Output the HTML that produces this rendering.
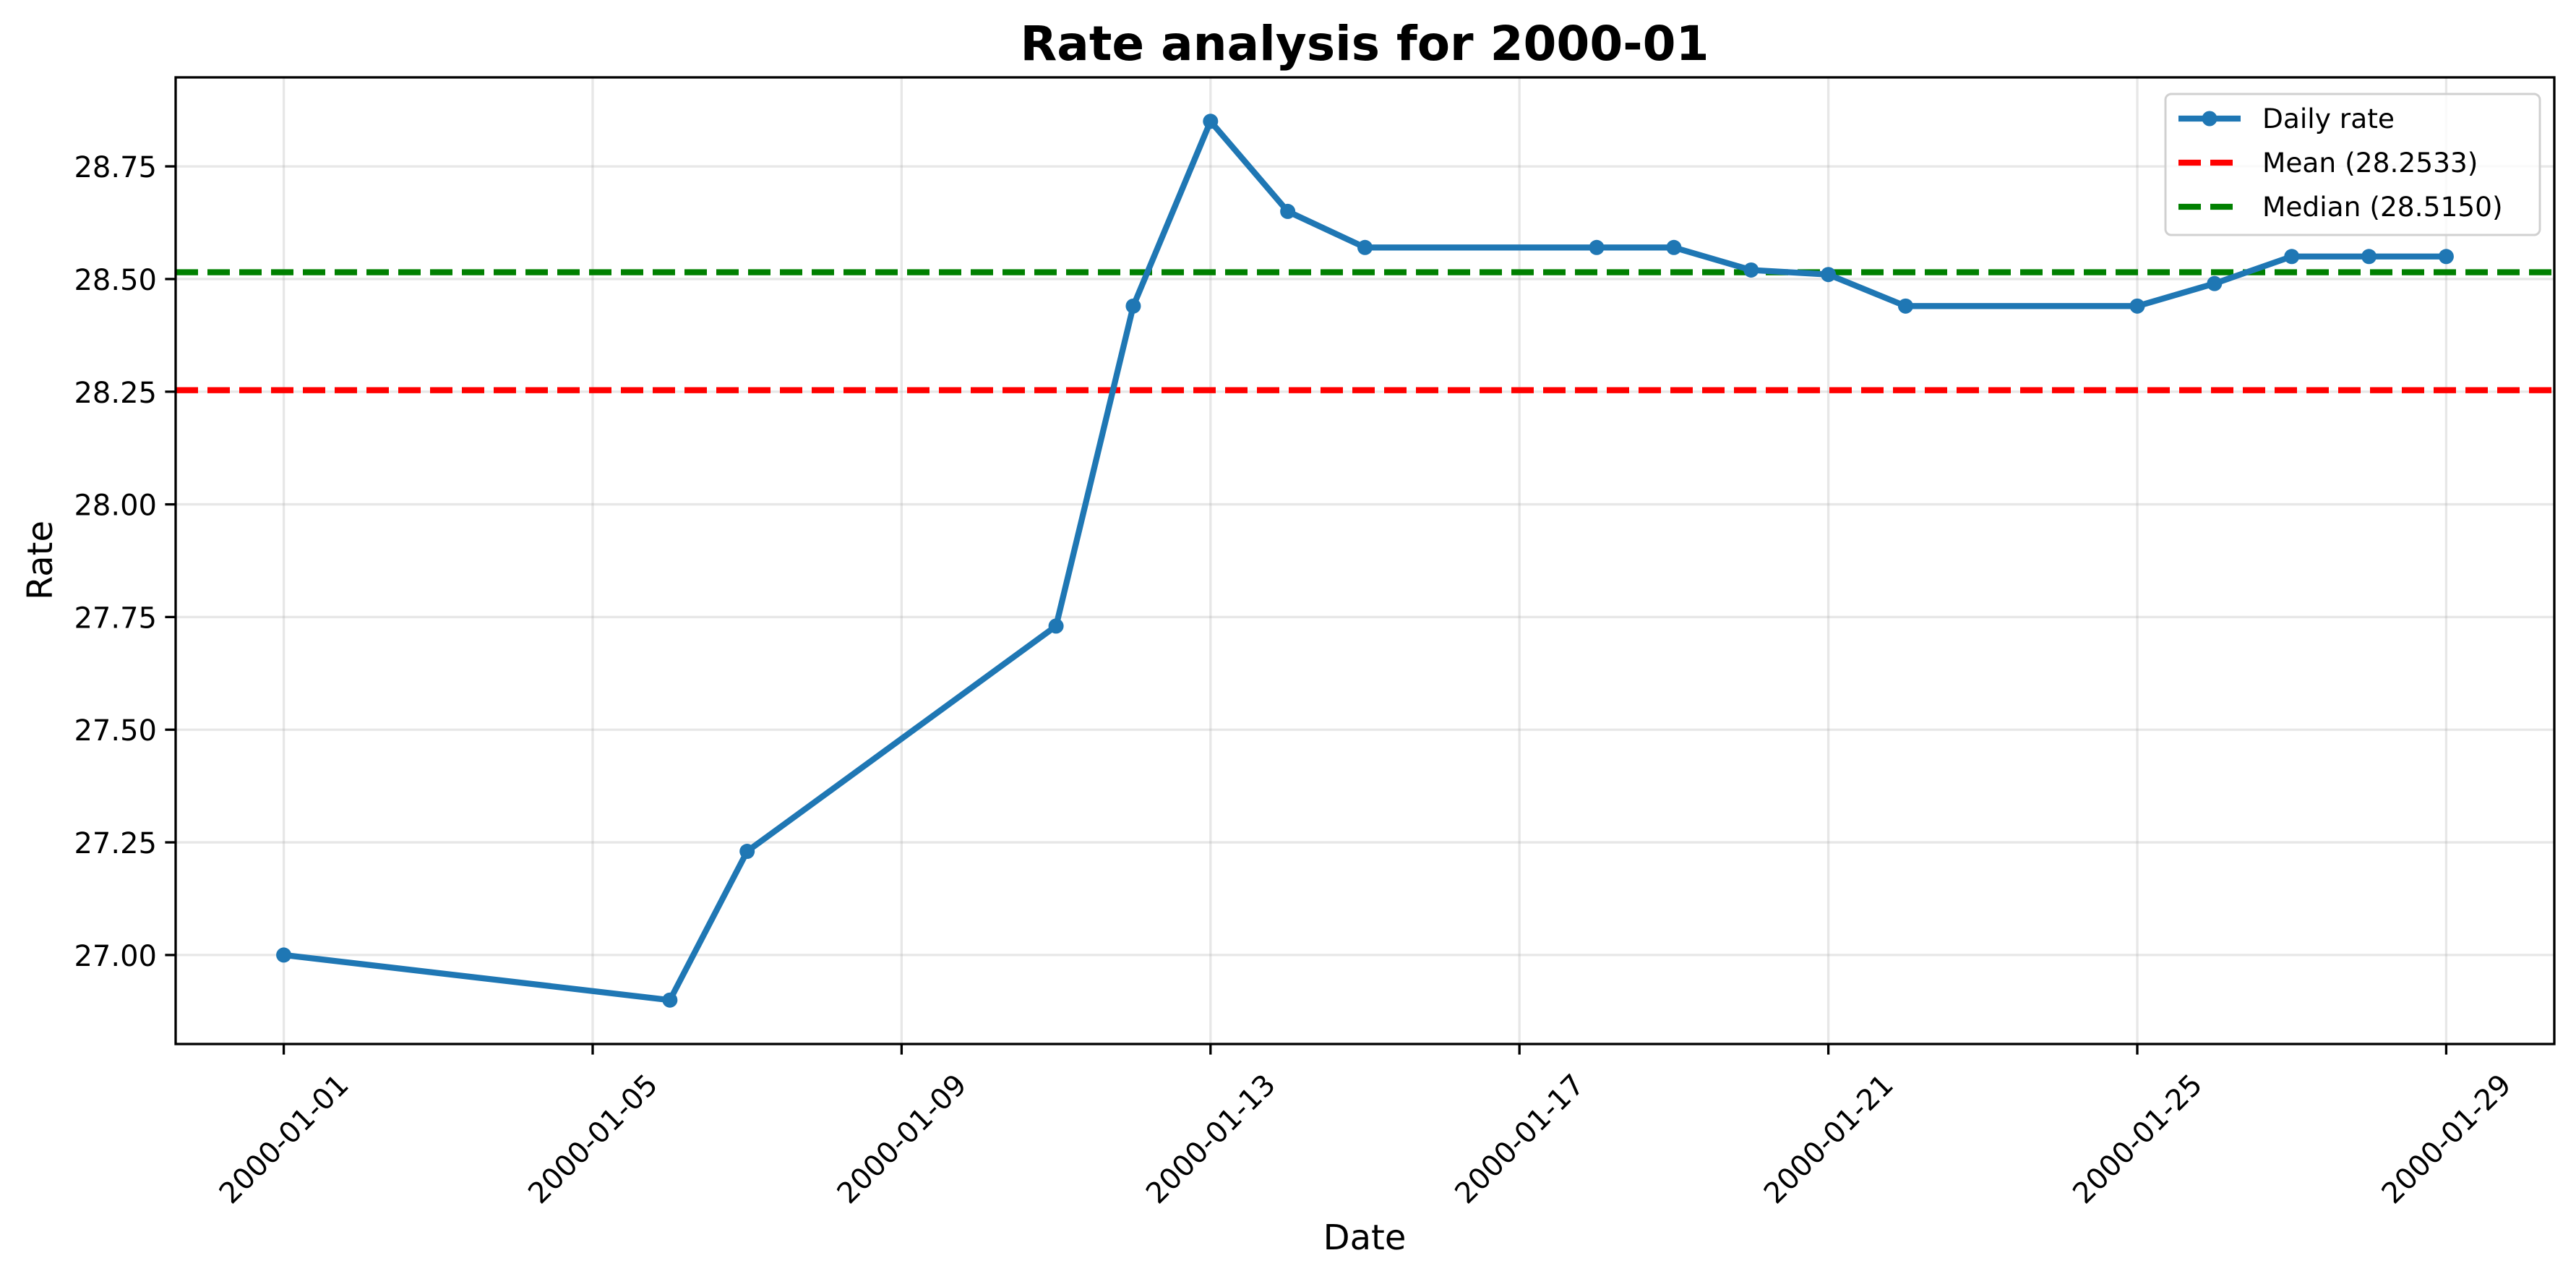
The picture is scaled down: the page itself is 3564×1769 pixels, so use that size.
<!DOCTYPE html>
<html><head><meta charset="utf-8"><style>
html,body{margin:0;padding:0;background:#fff;}
svg{display:block;font-family:"DejaVu Sans","Liberation Sans",sans-serif;}
</style></head><body>
<svg id="chart" width="3564" height="1769" viewBox="0 0 3564 1769">
<rect width="3564" height="1769" fill="#fff"/>
<g id="grid"></g>
<g id="refs"></g>
<g id="series"></g>
<rect x="243" y="107" width="3291" height="1337" fill="none" stroke="#000" stroke-width="3.3"/>
<g id="axes"></g>
<text x="1888" y="83" font-size="66" font-weight="bold" text-anchor="middle">Rate analysis for 2000-01</text>
<text x="1888" y="1728" font-size="48" text-anchor="middle">Date</text>
<text x="0" y="0" font-size="48" text-anchor="middle" transform="translate(72,775) rotate(-90)">Rate</text>
<g>
<rect x="2996" y="130" width="518" height="195" rx="8" fill="#fff" fill-opacity="0.8" stroke="#d0d0d0" stroke-width="3"/>
<g>
<line x1="3014" y1="164" x2="3100" y2="164" stroke="#1f77b4" stroke-width="8.3"/>
<circle cx="3057" cy="164" r="10.5" fill="#1f77b4"/>
<text x="3130" y="177" font-size="37.5">Daily rate</text></g>
<g>
<line x1="3014" y1="225" x2="3100" y2="225" stroke="#ff0000" stroke-width="8.3" stroke-dasharray="31,13"/>
<text x="3130" y="238" font-size="37.5">Mean (28.2533)</text></g>
<g>
<line x1="3014" y1="286" x2="3100" y2="286" stroke="#008000" stroke-width="8.3" stroke-dasharray="31,13"/>
<text x="3130" y="299" font-size="37.5">Median (28.5150)</text></g>
</g>
</svg>
<script>
const days = [1,6,7,11,12,13,14,15,18,19,20,21,22,25,26,27,28,29];
const rates = [27.00,26.90,27.23,27.73,28.44,28.85,28.65,28.57,28.57,28.57,28.52,28.51,28.44,28.44,28.49,28.55,28.55,28.55];
const meanValue = [28.2533];
const medianValue = [28.5150];
const xTickDays = [1,5,9,13,17,21,25,29];
const xTickLabels = ["2000-01-01","2000-01-05","2000-01-09","2000-01-13","2000-01-17","2000-01-21","2000-01-25","2000-01-29"];
const yTicks = [27.00,27.25,27.50,27.75,28.00,28.25,28.50,28.75];

const NS="http://www.w3.org/2000/svg";
const L=243,R=3534,T=107,B=1444;
const dmin=Math.min(...days),dmax=Math.max(...days);
const xpad=(dmax-dmin)*0.05;
const vmin=Math.min(...rates),vmax=Math.max(...rates);
const ypad=(vmax-vmin)*0.05;
function xs(d){return L+(d-(dmin-xpad))/((dmax+xpad)-(dmin-xpad))*(R-L);}
function ys(v){return B-(v-(vmin-ypad))/((vmax+ypad)-(vmin-ypad))*(B-T);}
function mk(tag,attrs,parent){const e=document.createElementNS(NS,tag);for(const k in attrs)e.setAttribute(k,attrs[k]);parent.appendChild(e);return e;}
const grid=document.getElementById('grid'),axes=document.getElementById('axes'),refs=document.getElementById('refs'),series=document.getElementById('series');
xTickDays.forEach((d,i)=>{
  const x=xs(d);
  const g=mk('line',{x1:x,y1:T,x2:x,y2:B,stroke:'#b0b0b0','stroke-opacity':0.3,'stroke-width':3.3},grid);
  
  
  const t=mk('line',{x1:x,y1:B,x2:x,y2:B+14.6,stroke:'#000','stroke-width':3.3},axes);
  
  
  const lb=mk('text',{x:0,y:14,'font-size':40,'text-anchor':'middle',transform:`translate(${x},1575) rotate(-45)`},axes);
  lb.textContent=xTickLabels[i];
  
  
});
yTicks.forEach(v=>{
  const y=ys(v);
  const g=mk('line',{x1:L,y1:y,x2:R,y2:y,stroke:'#b0b0b0','stroke-opacity':0.3,'stroke-width':3.3},grid);
  
  
  const t=mk('line',{x1:L-14.6,y1:y,x2:L,y2:y,stroke:'#000','stroke-width':3.3},axes);
  
  
  const lb=mk('text',{x:L-26,y:y+15,'font-size':40,'text-anchor':'end'},axes);
  lb.textContent=v.toFixed(2);
  
  
});
const ml=mk('line',{x1:L,y1:ys(meanValue[0]),x2:R,y2:ys(meanValue[0]),stroke:'#ff0000','stroke-width':8.3,'stroke-dasharray':'31,13'},refs);


const mdl=mk('line',{x1:L,y1:ys(medianValue[0]),x2:R,y2:ys(medianValue[0]),stroke:'#008000','stroke-width':8.3,'stroke-dasharray':'31,13'},refs);


const pts=days.map((d,i)=>xs(d)+','+ys(rates[i])).join(' ');
const pl=mk('polyline',{points:pts,fill:'none',stroke:'#1f77b4','stroke-width':8.3,'stroke-linejoin':'round','stroke-linecap':'round'},series);


days.forEach((d,i)=>{
  const c=mk('circle',{cx:xs(d),cy:ys(rates[i]),r:10.5,fill:'#1f77b4'},series);
  
  
});
</script>
</body></html>
